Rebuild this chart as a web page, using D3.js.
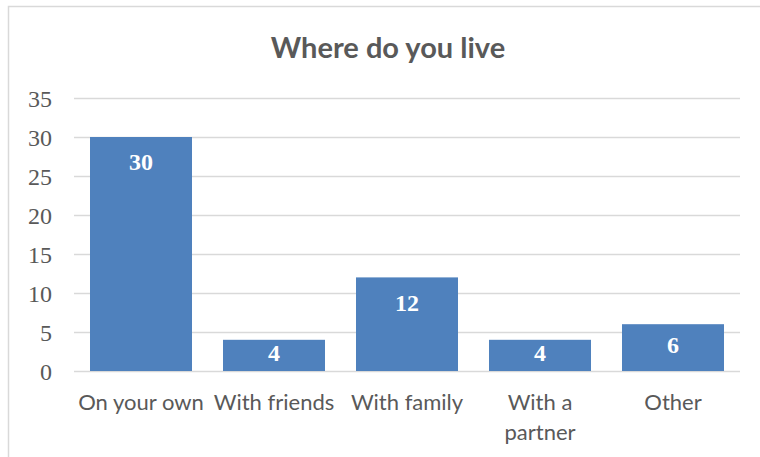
<!DOCTYPE html>
<html><head><meta charset="utf-8">
<script src="https://cdn.jsdelivr.net/npm/d3@7"></script>
<style>html,body{margin:0;padding:0;background:#fff;}svg{display:block;}</style>
</head><body>
<script>
const categories = ["On your own", "With friends", "With family", "With a partner", "Other"];
const values = [30, 4, 12, 4, 6];
const yTicks = [0, 5, 10, 15, 20, 25, 30, 35];
const title = "Where do you live";

const W = 760, H = 457;
const svg = d3.select("body").append("svg").attr("width", W).attr("height", H);

svg.append("rect").attr("x", 8.5).attr("y", 6.5).attr("width", 800).attr("height", 500)
  .attr("fill", "#fff").attr("stroke", "#d9d9d9").attr("stroke-width", 1.5);

const x = d3.scaleBand().domain(categories).range([74.5, 739.5]).paddingInner(0.233).paddingOuter(0.1165);
const y = d3.scaleLinear().domain([0, 35]).range([371, 98]);

svg.append("text").attr("x", 388).attr("y", 58).attr("text-anchor", "middle")
  .attr("font-family", "Lato, 'Open Sans', sans-serif").attr("font-weight", "bold")
  .attr("font-size", 29).attr("fill", "#595959").text(title);

// gridlines
const yAxis = d3.axisLeft(y).tickValues(yTicks).tickSize(-(740 - 74)).tickPadding(22);
const gy = svg.append("g").attr("transform", "translate(74,0)").call(yAxis);
gy.select(".domain").remove();
gy.selectAll(".tick line").attr("stroke", "#d9d9d9").attr("stroke-width", 1.5);
gy.selectAll(".tick text").attr("font-family", "'Liberation Serif', serif").attr("font-size", 24)
  .attr("fill", "#595959").attr("dy", "0.34em");

// bars
svg.selectAll("rect.bar").data(values).join("rect").attr("class", "bar")
  .attr("x", (d, i) => x(categories[i])).attr("width", x.bandwidth())
  .attr("y", d => y(d)).attr("height", d => y(0) - y(d)).attr("fill", "#4f81bd");

// data labels
svg.selectAll("text.lbl").data(values).join("text").attr("class", "lbl")
  .attr("x", (d, i) => x(categories[i]) + x.bandwidth() / 2)
  .attr("y", d => Math.min(y(d) + 25, (y(d) + y(0)) / 2 - 3))
  .attr("dy", "0.34em").attr("text-anchor", "middle")
  .attr("font-family", "'Liberation Serif', serif").attr("font-weight", "bold")
  .attr("font-size", 24).attr("fill", "#fff").text(d => d);

// category labels
const gx = svg.append("g").attr("transform", "translate(0,371)").call(d3.axisBottom(x).tickSize(0).tickPadding(0));
gx.select(".domain").remove();
gx.selectAll(".tick text").remove();
gx.selectAll(".tick").each(function(d) {
  const t = d3.select(this).append("text").attr("text-anchor", "middle")
    .attr("font-family", "Lato, 'Open Sans', sans-serif").attr("font-size", 22).attr("fill", "#595959");
  const words = d.split(" ");
  let lines = [], cur = [];
  const probe = t.append("tspan");
  words.forEach(w => {
    const test = cur.concat([w]).join(" ");
    probe.text(test);
    if (probe.node().getComputedTextLength() > x.step() && cur.length) { lines.push(cur.join(" ")); cur = [w]; }
    else cur.push(w);
  });
  lines.push(cur.join(" "));
  probe.remove();
  lines.forEach((l, i) => t.append("tspan").attr("x", 0).attr("y", 39 + i * 30).text(l));
});
</script>
</body></html>
